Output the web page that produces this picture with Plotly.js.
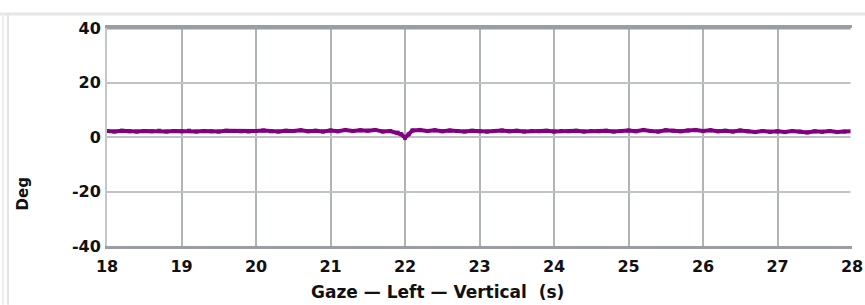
<!DOCTYPE html>
<html>
<head>
<meta charset="utf-8">
<script src="https://cdn.plot.ly/plotly-3.0.1.min.js"></script>
<style>html,body{margin:0;padding:0;background:#fff;}#chart{width:865px;height:305px;}</style>
</head>
<body>
<div id="chart"></div>
<script>
// Time (s)
const timeS = [18.0,18.1,18.2,18.3,18.4,18.5,18.6,18.7,18.8,18.9,
19.0,19.1,19.2,19.3,19.4,19.5,19.6,19.7,19.8,19.9,
20.0,20.1,20.2,20.3,20.4,20.5,20.6,20.7,20.8,20.9,
21.0,21.1,21.2,21.3,21.4,21.5,21.6,21.7,21.8,21.9,
21.95,22.0,22.05,22.1,22.2,22.3,22.4,22.5,22.6,22.7,22.8,22.9,
23.0,23.1,23.2,23.3,23.4,23.5,23.6,23.7,23.8,23.9,
24.0,24.1,24.2,24.3,24.4,24.5,24.6,24.7,24.8,24.9,
25.0,25.1,25.2,25.3,25.4,25.5,25.6,25.7,25.8,25.9,
26.0,26.1,26.2,26.3,26.4,26.5,26.6,26.7,26.8,26.9,
27.0,27.1,27.2,27.3,27.4,27.5,27.6,27.7,27.8,27.9,28.0];
// Gaze left vertical (deg)
const gazeDeg = [2.2,2.0,2.3,2.1,2.0,2.2,2.1,2.3,2.0,2.2,
2.1,2.3,2.0,2.2,2.1,2.0,2.3,2.2,2.1,2.0,
2.2,2.4,2.1,2.0,2.3,2.2,2.5,2.1,2.3,2.0,
2.4,2.1,2.6,2.2,2.5,2.3,2.6,2.0,2.2,1.6,
1.0,-0.3,1.0,2.4,2.6,2.2,2.5,2.1,2.4,2.2,2.0,2.3,
2.1,2.0,2.2,2.4,2.1,2.3,2.0,2.2,2.1,2.3,
2.0,2.2,2.1,2.3,2.0,2.2,2.1,2.3,2.0,2.2,
2.4,2.1,2.6,2.2,2.0,2.5,2.3,2.1,2.4,2.6,
2.2,2.5,2.1,2.3,2.0,2.4,2.1,1.8,2.2,1.9,
2.1,1.8,2.2,2.0,1.7,2.1,1.9,2.2,1.8,2.0,2.1];
const xTicks = [18,19,20,21,22,23,24,25,26,27,28];
const yTicks = [-40,-20,0,20,40];
const xTitle = 'Gaze — Left — Vertical  (s)';
const yTitle = 'Deg';

const tickFont = {family: 'DejaVu Sans', size: 16, color: '#111', weight: 'bold'};

Plotly.newPlot('chart', [{
  x: timeS, y: gazeDeg, type: 'scatter', mode: 'lines+markers',
  line: {color: '#800080', width: 4},
  marker: {color: '#800080', size: 4, symbol: 'square'},
  hoverinfo: 'skip', showlegend: false
}], {
  width: 865, height: 305,
  margin: {l: 107, r: 13, t: 28, b: 59},
  paper_bgcolor: '#ffffff', plot_bgcolor: '#ffffff',
  font: {family: 'DejaVu Sans', color: '#111'},
  xaxis: {
    range: [18, 28], tickvals: xTicks, ticktext: xTicks.map(String),
    showgrid: true, gridcolor: '#b0b4b8', gridwidth: 2,
    zeroline: false, showline: true, linecolor: '#9a9ea3', linewidth: 3, mirror: true,
    ticks: '', tickfont: tickFont, ticklabelstandoff: 4
  },
  yaxis: {
    range: [-40, 40], tickvals: yTicks, ticktext: yTicks.map(String),
    showgrid: true, gridcolor: '#c0c3c6', gridwidth: 2,
    zeroline: false, showline: true, linecolor: '#c4c7ca', linewidth: 2, mirror: false,
    ticks: '', tickfont: tickFont, ticklabelstandoff: 1
  },
  shapes: [
    {type: 'line', xref: 'paper', yref: 'paper', x0: 0, x1: 1, y0: 1, y1: 1, line: {color: '#9a9ea3', width: 3}},
    {type: 'line', xref: 'paper', yref: 'paper', x0: 1, x1: 1, y0: 0, y1: 1, line: {color: '#ffffff', width: 3}},
    {type: 'line', xref: 'paper', yref: 'paper', x0: -0.1436, x1: 1.0175, y0: 1.064, y1: 1.064, line: {color: '#e6e6e6', width: 3}},
    {type: 'line', xref: 'paper', yref: 'paper', x0: -0.1396, x1: -0.1396, y0: -0.27, y1: 1.064, line: {color: '#eeeeee', width: 2}},
    {type: 'line', xref: 'paper', yref: 'paper', x0: -0.1329, x1: -0.1329, y0: -0.27, y1: 1.064, line: {color: '#e4e4e4', width: 2}}
  ],
  annotations: [
    {text: xTitle, xref: 'paper', yref: 'paper', x: 0.443, y: -0.212,
     showarrow: false, font: {family: 'DejaVu Sans', size: 17, color: '#111', weight: 'bold'}, xanchor: 'center', yanchor: 'middle'},
    {text: yTitle, xref: 'paper', yref: 'paper', x: -0.113, y: 0.24, textangle: -90,
     showarrow: false, font: {family: 'DejaVu Sans', size: 15, color: '#111', weight: 'bold'}, xanchor: 'center', yanchor: 'middle'}
  ]
}, {staticPlot: true, displayModeBar: false});
</script>
</body>
</html>
